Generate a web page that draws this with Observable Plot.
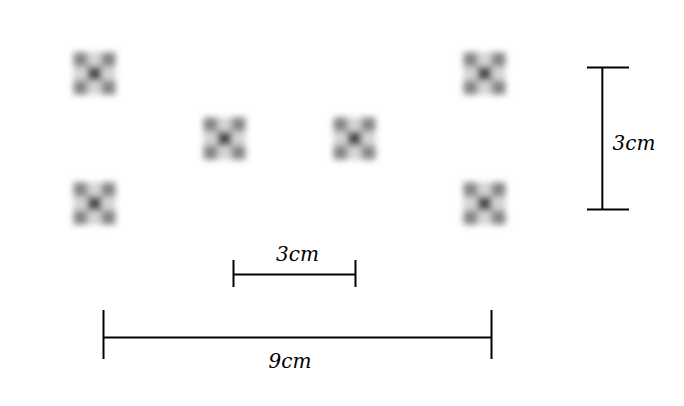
<!DOCTYPE html>
<html><head><meta charset="utf-8">
<script src="https://cdn.jsdelivr.net/npm/d3@7"></script>
<script src="https://cdn.jsdelivr.net/npm/@observablehq/plot@0.6"></script>
<style>
body{margin:0;background:#fff}
</style></head><body><div id="chart"></div>
<script>
// marker centres, in cm (origin = lower-left marker)
const markerX = [0, 9, 3, 6, 0, 9];
const markerY = [3, 3, 1.5, 1.5, 0, 0];

// dimension lines (cm)
const vLineX = [11.72];
const vLineY1 = [-0.138];
const vLineY2 = [3.138];
const hLineY = [-1.638, -3.092];
const hLineX1 = [3.208, 0.208];
const hLineX2 = [6.023, 9.162];
// end caps
const capHY = [3.138, -0.138];
const capHX1 = [11.377, 11.377];
const capHX2 = [12.346, 12.346];
const capVX = [3.208, 6.023, 0.208, 9.162];
const capVY1 = [-1.315, -1.315, -2.469, -2.469];
const capVY2 = [-1.938, -1.938, -3.6, -3.6];
// labels
const labels = ["3cm", "3cm", "9cm"];
const labelX = [11.954, 4.685, 4.51];
const labelY = [1.383, -1.18, -3.65];
const labelAnchor = ["start", "middle", "middle"];

const markers = markerX.map((x, i) => ({x, y: markerY[i]}));
const vLines = vLineX.map((x, i) => ({x, y1: vLineY1[i], y2: vLineY2[i]}));
const hLines = hLineY.map((y, i) => ({y, x1: hLineX1[i], x2: hLineX2[i]}));
const capsH = capHY.map((y, i) => ({y, x1: capHX1[i], x2: capHX2[i]}));
const capsV = capVX.map((x, i) => ({x, y1: capVY1[i], y2: capVY2[i]}));
const labelData = labels.map((t, i) => ({t, x: labelX[i], y: labelY[i], a: labelAnchor[i]}));

// marker glyph: 3x3 grid, r = cell size
const cellSymbol = (cells) => ({draw(ctx, size) {
  const c = Math.sqrt(size / Math.PI);
  for (const [i, j] of cells) ctx.rect(i * c - c / 2, j * c - c / 2, c, c);
}});
const edgeSymbol = cellSymbol([[0, -1], [0, 1], [-1, 0], [1, 0]]);
const cornerSymbol = cellSymbol([[-1, -1], [1, -1], [-1, 1], [1, 1]]);
const centreSymbol = cellSymbol([[0, 0]]);

const chart = Plot.plot({
  width: 684, height: 406,
  marginLeft: 0, marginRight: 0, marginTop: 0, marginBottom: 0,
  x: {domain: [-2.169, 13.616], axis: null},
  y: {domain: [-4.685, 4.685], axis: null},
  style: {background: "#fff"},
  marks: [
    Plot.dot(markers, {x: "x", y: "y", r: 14, symbol: edgeSymbol, fill: "#d4d4d4", stroke: "none"}),
    Plot.dot(markers, {x: "x", y: "y", r: 14, symbol: cornerSymbol, fill: "#858585", stroke: "none"}),
    Plot.dot(markers, {x: "x", y: "y", r: 14, symbol: centreSymbol, fill: "#4a4a4a", stroke: "none"}),
    Plot.ruleX(vLines, {x: "x", y1: "y1", y2: "y2", stroke: "#000", strokeWidth: 2}),
    Plot.ruleY(hLines, {y: "y", x1: "x1", x2: "x2", stroke: "#000", strokeWidth: 2}),
    Plot.ruleY(capsH, {y: "y", x1: "x1", x2: "x2", stroke: "#000", strokeWidth: 2}),
    Plot.ruleX(capsV, {x: "x", y1: "y1", y2: "y2", stroke: "#000", strokeWidth: 2}),
    Plot.text(labelData, {x: "x", y: "y", text: "t", textAnchor: "start", filter: d => d.a === "start",
      fontFamily: "DejaVu Serif", fontStyle: "italic", fontSize: 20, fill: "#000"}),
    Plot.text(labelData, {x: "x", y: "y", text: "t", textAnchor: "middle", filter: d => d.a === "middle",
      fontFamily: "DejaVu Serif", fontStyle: "italic", fontSize: 20, fill: "#000"})
  ]
});
const svg = d3.select(chart);
svg.insert("defs", ":first-child")
  .append("filter").attr("id", "soft").attr("x", "-20%").attr("y", "-20%").attr("width", "140%").attr("height", "140%")
  .append("feGaussianBlur").attr("stdDeviation", 3);
const dots = svg.selectAll('g[aria-label="dot"]').nodes();
const wrap = svg.insert("g", () => dots[0]).attr("filter", "url(#soft)");
dots.forEach(n => wrap.node().appendChild(n));
document.getElementById("chart").append(chart);
</script></body></html>
